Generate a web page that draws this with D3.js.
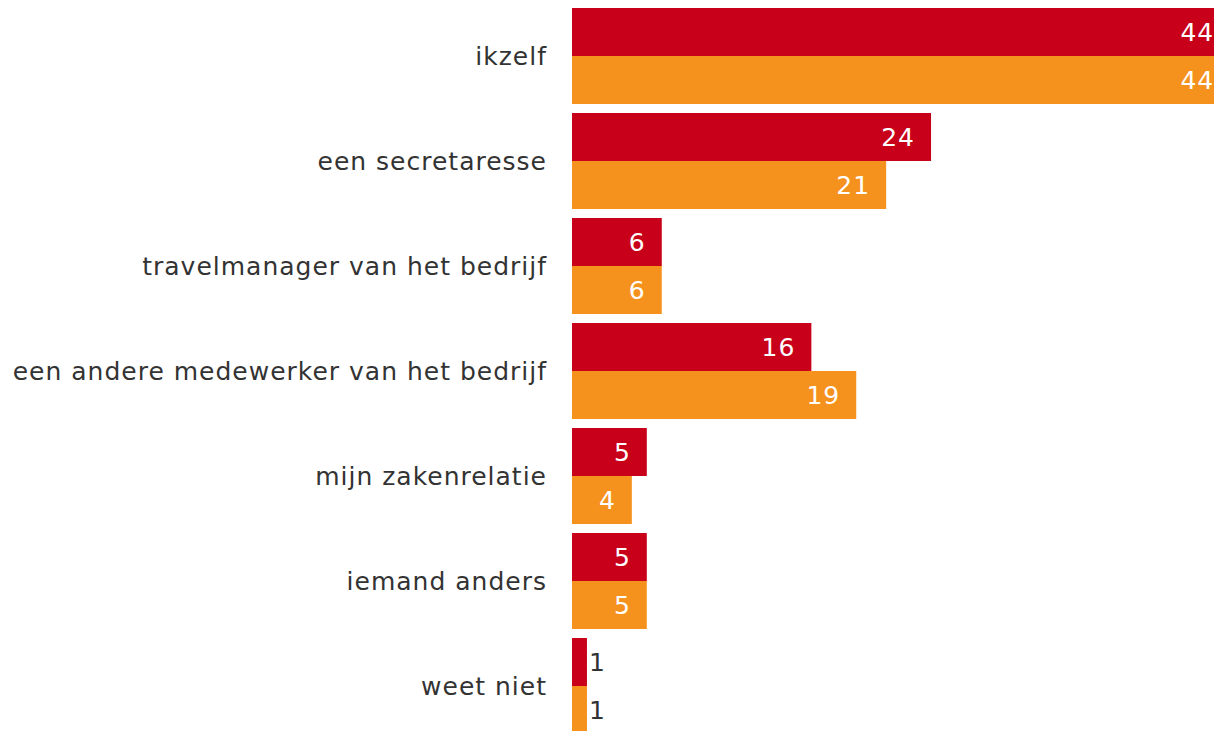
<!DOCTYPE html>
<html>
<head>
<meta charset="utf-8">
<script src="https://cdn.jsdelivr.net/npm/d3@7"></script>
<style>
  html, body { margin: 0; padding: 0; background: #fff; overflow: hidden; }
  svg { display: block; font-family: "DejaVu Sans", Verdana, sans-serif; }
</style>
</head>
<body>
<div id="main"></div>
<script>
const categories = ['ikzelf', 'een secretaresse', 'travelmanager van het bedrijf',
  'een andere medewerker van het bedrijf', 'mijn zakenrelatie', 'iemand anders', 'weet niet'];
const series = ['a', 'b'];
const valuesA = [44, 24, 6, 16, 5, 5, 1];
const valuesB = [44, 21, 6, 19, 4, 5, 1];
const colors = ['#c8001a', '#f5921e'];

const width = 1214;
const height = 731;

const svg = d3.select('#main')
  .append('svg')
  .attr('width', width)
  .attr('height', height);

const x = d3.scaleLinear().domain([0, 44]).range([572, 572 + 44 * 14.96]);

const y = d3.scaleBand()
  .domain(categories)
  .range([3.5, 738.5])
  .paddingInner(9 / 105)
  .paddingOuter(4.5 / 105);

const y1 = d3.scaleBand().domain(series).range([0, y.bandwidth()]);

const rows = categories.map((c, i) => ({ cat: c, vals: [valuesA[i], valuesB[i]] }));

const group = svg.selectAll('g.group')
  .data(rows)
  .enter()
  .append('g')
  .attr('class', 'group')
  .attr('transform', d => 'translate(0,' + y(d.cat) + ')');

group.append('text')
  .attr('x', 547)
  .attr('y', y.bandwidth() / 2)
  .attr('dy', '0.35em')
  .attr('text-anchor', 'end')
  .style('font-size', '25px')
  .style('letter-spacing', '1px')
  .style('fill', '#333')
  .text(d => d.cat);

const bar = group.selectAll('g.bar')
  .data(d => d.vals.map((v, j) => ({ s: series[j], v: v, c: colors[j] })))
  .enter()
  .append('g')
  .attr('class', 'bar');

bar.append('rect')
  .attr('x', x(0))
  .attr('y', d => y1(d.s))
  .attr('width', d => x(d.v) - x(0))
  .attr('height', y1.bandwidth())
  .style('fill', d => d.c);

bar.append('text')
  .attr('x', d => d.v > 2 ? x(d.v) - 16 : x(d.v) + 2)
  .attr('y', d => y1(d.s) + y1.bandwidth() / 2)
  .attr('dy', '0.35em')
  .attr('text-anchor', d => d.v > 2 ? 'end' : 'start')
  .style('font-size', '25px')
  .style('letter-spacing', '1px')
  .style('fill', d => d.v > 2 ? '#fff' : '#333')
  .text(d => d.v);
</script>
</body>
</html>
